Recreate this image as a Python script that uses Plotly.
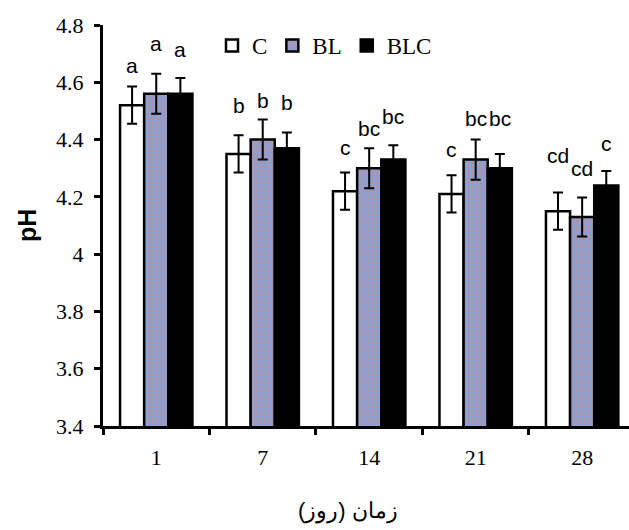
import plotly.graph_objects as go

days = ["1", "7", "14", "21", "28"]
series_names = ["C", "BL", "BLC"]
c_vals = [4.52, 4.35, 4.22, 4.21, 4.15]
bl_vals = [4.56, 4.40, 4.30, 4.33, 4.13]
blc_vals = [4.56, 4.37, 4.33, 4.30, 4.24]
c_err = [0.065, 0.065, 0.065, 0.065, 0.065]
bl_err = [0.07, 0.07, 0.07, 0.07, 0.068]
blc_err = [0.055, 0.055, 0.05, 0.05, 0.05]
c_letters = ["a", "b", "c", "c", "cd"]
bl_letters = ["a", "b", "bc", "bc", "cd"]
blc_letters = ["a", "b", "bc", "bc", "c"]
c_letter_y = [4.66, 4.52, 4.374, 4.364, 4.346]
bl_letter_y = [4.737, 4.538, 4.44, 4.475, 4.30]
blc_letter_y = [4.713, 4.528, 4.482, 4.475, 4.388]
y_ticks = [3.4, 3.6, 3.8, 4.0, 4.2, 4.4, 4.6, 4.8]
y_tick_text = ["3.4", "3.6", "3.8", "4", "4.2", "4.4", "4.6", "4.8"]

serif = "Liberation Serif, Times New Roman, serif"
sans = "Liberation Sans, Arial, sans-serif"

fig = go.Figure()
err_style = dict(type="data", visible=True, color="black", thickness=2, width=5)
fig.add_trace(go.Bar(
    name=series_names[0], x=days, y=c_vals,
    error_y=dict(array=c_err, **err_style),
    marker=dict(color="white", line=dict(color="black", width=2.5)),
))
fig.add_trace(go.Bar(
    name=series_names[1], x=days, y=bl_vals,
    error_y=dict(array=bl_err, **err_style),
    marker=dict(color="#86a2d8", line=dict(color="black", width=2.5),
                pattern=dict(shape=".", fgcolor="#e8806a", size=4, solidity=0.4)),
))
fig.add_trace(go.Bar(
    name=series_names[2], x=days, y=blc_vals,
    error_y=dict(array=blc_err, **err_style),
    marker=dict(color="black", line=dict(color="black", width=2.5)),
))

annotations = []
for letters, ly, shift in [(c_letters, c_letter_y, -24), (bl_letters, bl_letter_y, 0), (blc_letters, blc_letter_y, 24)]:
    for i, (t, yv) in enumerate(zip(letters, ly)):
        annotations.append(dict(x=i, y=yv, text=t, xref="x", yref="y", xshift=shift,
                                showarrow=False, font=dict(family=sans, size=21, color="black")))

L, R, T, B = 103, 0, 25, 104
W, H = 629, 530
pw, ph = W - L - R, H - T - B
def to_paper(px, py):
    return (px - L) / pw, (H - B - py) / ph

px_, py_ = to_paper(27, 226)
annotations.append(dict(x=px_, y=py_, xref="paper", yref="paper", text="<b>pH</b>", textangle=-90,
                        xanchor="center", yanchor="middle",
                        showarrow=False, font=dict(family=sans, size=25, color="black")))
px_, py_ = to_paper(348, 511)
annotations.append(dict(x=px_, y=py_, xref="paper", yref="paper", text="زمان (روز)", showarrow=False,
                        xanchor="center", yanchor="middle",
                        font=dict(family=sans, size=22, color="black")))

lx, ly_ = to_paper(212, 24)
fig.update_layout(
    width=W, height=H,
    margin=dict(l=L, r=R, t=T, b=B, autoexpand=False),
    plot_bgcolor="white", paper_bgcolor="white",
    barmode="group", bargap=0.32, bargroupgap=0,
    showlegend=True,
    legend=dict(orientation="h", x=lx, y=ly_, xanchor="left", yanchor="top",
                font=dict(family=serif, size=23, color="black"), itemwidth=30,
                bgcolor="rgba(0,0,0,0)", tracegroupgap=0),
    annotations=annotations,
    xaxis=dict(range=[-0.5, 4.44], showline=True, linecolor="black", linewidth=3,
               ticks="outside", tickson="boundaries", ticklen=6, tickwidth=3, tickcolor="black",
               ticklabelstandoff=10,
               tickfont=dict(family=serif, size=22, color="black"), showgrid=False, zeroline=False,
               automargin=False),
    yaxis=dict(range=[3.4, 4.8], tickvals=y_ticks, ticktext=y_tick_text, showline=True,
               linecolor="black", linewidth=3, ticks="outside", ticklen=6, tickwidth=3,
               tickcolor="black", ticklabelstandoff=6, automargin=False,
               tickfont=dict(family=serif, size=22, color="black"), showgrid=False, zeroline=False),
)
fig.write_html("out.html", config={"displayModeBar": False},
               post_script="document.body.style.margin='0';document.body.style.overflow='hidden';")
